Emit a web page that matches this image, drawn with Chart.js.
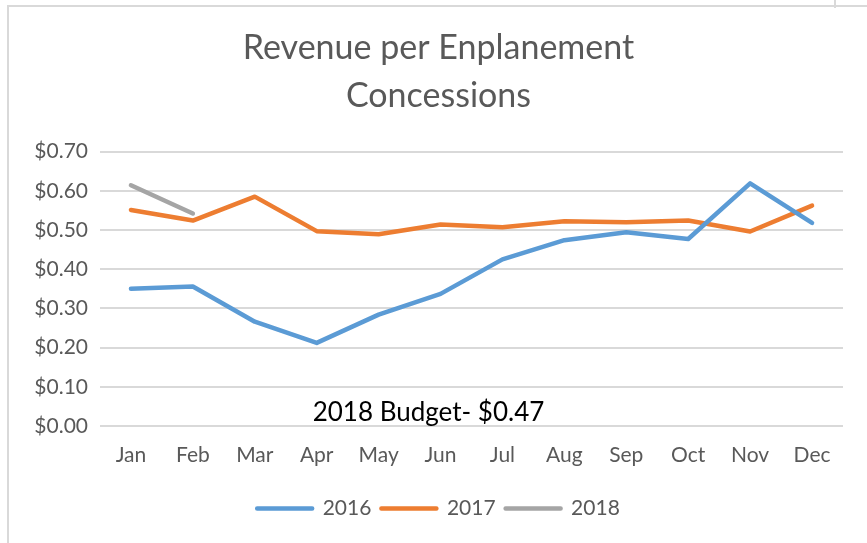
<!DOCTYPE html>
<html>
<head>
<meta charset="utf-8">
<script src="https://cdn.jsdelivr.net/npm/chart.js@4/dist/chart.umd.min.js"></script>
<style>
  html, body { margin: 0; padding: 0; background: #fff; }
  #wrap { position: relative; width: 867px; height: 543px; overflow: hidden; }
  #frame { position: absolute; left: 7px; top: 5px; width: 900px; height: 600px; border-left: 2px solid #d9d9d9; border-top: 2px solid #d9d9d9; }
  #notch { position: absolute; left: 834px; top: 0; width: 0; height: 8px; border-left: 2px solid #d9d9d9; }
  canvas { position: absolute; left: 0; top: 0; }
</style>
</head>
<body>
<div id="wrap">
  <div id="frame"></div>
  <div id="notch"></div>
  <canvas id="chart" width="867" height="543"></canvas>
</div>
<script>
const months = ['Jan', 'Feb', 'Mar', 'Apr', 'May', 'Jun', 'Jul', 'Aug', 'Sep', 'Oct', 'Nov', 'Dec'];
const rev2016 = [0.350, 0.356, 0.266, 0.212, 0.284, 0.337, 0.425, 0.474, 0.494, 0.477, 0.619, 0.518];
const rev2017 = [0.551, 0.524, 0.585, 0.497, 0.489, 0.514, 0.507, 0.522, 0.520, 0.524, 0.496, 0.562];
const rev2018 = [0.614, 0.542];
const budgetNote = '2018 Budget- $0.47';

const font = 'Lato, "Open Sans", sans-serif';

function lineSet(label, data, color) {
  return {
    label: label,
    data: data,
    borderColor: color,
    backgroundColor: color,
    borderWidth: 4.5,
    borderCapStyle: 'round',
    borderJoinStyle: 'round',
    pointRadius: 0,
    tension: 0,
    fill: false
  };
}

const notePlugin = {
  id: 'note',
  afterDraw(chart) {
    const ctx = chart.ctx;
    const area = chart.chartArea;
    ctx.save();
    ctx.font = '26px ' + font;
    ctx.fillStyle = '#000';
    ctx.textAlign = 'center';
    ctx.textBaseline = 'middle';
    ctx.fillText(budgetNote, (area.left + area.right) / 2 - 43, area.bottom - 13);
    ctx.restore();
  }
};

const ctx = document.getElementById('chart').getContext('2d');
new Chart(ctx, {
  type: 'line',
  data: {
    labels: months,
    datasets: [
      lineSet('2016', rev2016, '#5B9BD5'),
      lineSet('2017', rev2017, '#ED7D31'),
      lineSet('2018', rev2018, '#A5A5A5')
    ]
  },
  options: {
    responsive: false,
    animation: false,
    layout: { padding: { left: 34, right: 24, top: 24, bottom: 14 } },
    plugins: {
      title: {
        display: true,
        text: ['Revenue per Enplanement', 'Concessions'],
        color: '#595959',
        font: { family: font, size: 34, weight: 'normal', lineHeight: 1.42 },
        padding: { top: 0, bottom: 31 }
      },
      legend: {
        position: 'bottom',
        labels: {
          boxWidth: 55,
          boxHeight: 0,
          color: '#595959',
          font: { family: font, size: 21 },
          padding: 10
        }
      },
      tooltip: { enabled: false }
    },
    scales: {
      x: {
        offset: true,
        grid: { display: false },
        border: { display: false },
        afterFit(scale) { scale.height = 62; },
        ticks: { color: '#595959', font: { family: font, size: 21 }, padding: 9, maxRotation: 0 }
      },
      y: {
        min: 0,
        max: 0.7,
        grid: { color: '#d9d9d9', lineWidth: 2, drawTicks: false },
        border: { display: false },
        afterFit(scale) { scale.width = 66; },
        ticks: {
          stepSize: 0.1,
          color: '#595959',
          font: { family: font, size: 21 },
          padding: 12,
          callback: v => '$' + v.toFixed(2)
        }
      }
    }
  },
  plugins: [notePlugin]
});
</script>
</body>
</html>
